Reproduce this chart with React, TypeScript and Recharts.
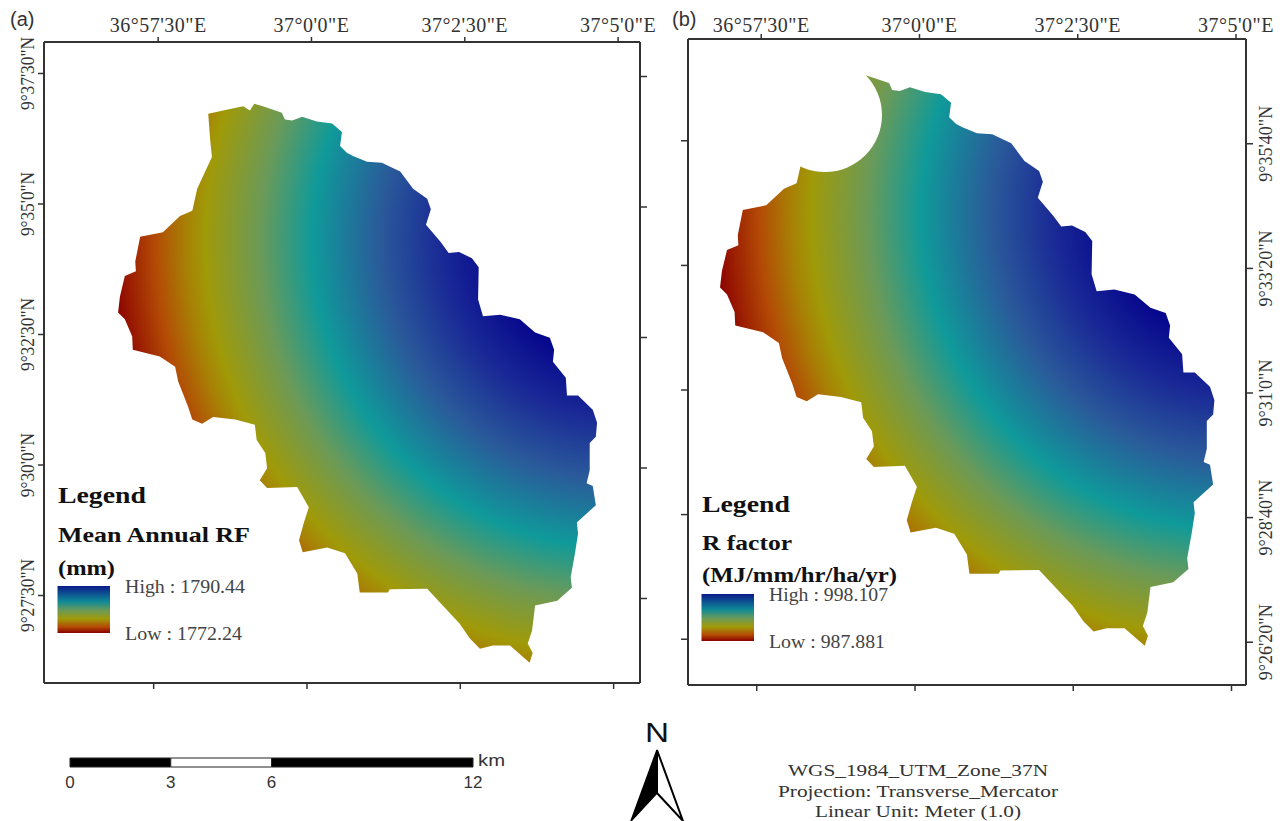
import { BarChart, Bar, ReferenceDot, Scatter, ScatterChart, XAxis, YAxis } from 'recharts';

// lon = arc-minutes east of 37°0', lat = arc-minutes north of 9°0'
const outlineLon = [
  -1.61, -1.29, -1.04, -0.93, -0.86, -0.72, -0.41, -0.36, -0.24, -0.08, 0.16, 0.41, 0.57, 0.54, 0.65, 0.75, 0.98, 1.22,
  1.52, 1.73, 1.96, 2.02, 1.94, 2.18, 2.31, 2.48, 2.69, 2.8, 2.79, 2.87, 3.15, 3.47, 3.72, 3.96, 4.03, 4.01, 4.22, 4.24,
  4.42, 4.66, 4.73, 4.71, 4.61, 4.61, 4.56, 4.66, 4.71, 4.4, 4.42, 4.37, 4.3, 4.32, 4.08, 3.72, 3.67, 3.6, 3.68, 3.63,
  3.31, 3.03, 2.82, 2.66, 2.49, 1.96, 1.35, 1.32, 0.86, 0.82, 0.62, 0.33, -0.07, -0.13, -0.05, 0.03, -0.16, -0.65, -0.77,
  -0.65, -0.68, -0.82, -0.85, -1.17, -1.53, -1.71, -1.87, -1.94, -2.1, -2.15, -2.4, -2.84, -2.85, -2.97, -3.08, -3.05,
  -2.97, -2.79, -2.8, -2.72, -2.35, -2.07, -1.87, -1.79, -1.55, -1.58,
];
const outlineLat = [
  36.73, 36.81, 36.87, 36.79, 36.92, 36.87, 36.75, 36.62, 36.6, 36.67, 36.58, 36.54, 36.38, 36.11, 35.98, 35.92, 35.81,
  35.79, 35.62, 35.29, 35.1, 34.9, 34.6, 34.27, 34.06, 34.08, 33.96, 33.79, 33.17, 32.85, 32.88, 32.79, 32.54, 32.44,
  32.21, 31.98, 31.67, 31.33, 31.33, 31.06, 30.81, 30.54, 30.42, 29.9, 29.65, 29.6, 29.23, 28.9, 28.69, 28.31, 27.85,
  27.65, 27.4, 27.31, 26.83, 26.58, 26.4, 26.21, 26.54, 26.54, 26.48, 26.67, 26.96, 27.63, 27.62, 27.56, 27.56, 27.92,
  28.31, 28.42, 28.33, 28.56, 28.9, 29.19, 29.58, 29.56, 29.71, 29.94, 30.23, 30.48, 30.77, 30.87, 30.92, 30.79, 30.87,
  31.12, 31.6, 31.88, 32.08, 32.21, 32.46, 32.79, 32.92, 33.23, 33.62, 33.71, 33.9, 34.37, 34.46, 34.77, 34.87, 35.29,
  35.9, 36.25,
];
const outline = outlineLon.map((lon, i) => ({ lon, lat: outlineLat[i] }));

const lonTicks = [-2.5, 0, 2.5, 5];
const lonLabels = ['36°57\'30"E', '37°0\'0"E', '37°2\'30"E', '37°5\'0"E'];

const latTicksA = [37.5, 35, 32.5, 30, 27.5];
const latLabelsA = ['9°37\'30"N', '9°35\'0"N', '9°32\'30"N', '9°30\'0"N', '9°27\'30"N'];

const latTicksB = [35.667, 33.333, 31, 28.667, 26.333];
const latLabelsB = ['9°35\'40"N', '9°33\'20"N', '9°31\'0"N', '9°28\'40"N', '9°26\'20"N'];

// the white notch in map (b)
const notchLon = -1.422;
const notchLat = 36.15;

const scaleSegments = [3, 3, 6];
const scaleTicks = [0, 3, 6, 12];
const scaleRow = [{ name: 'km', first: scaleSegments[0], second: scaleSegments[1], third: scaleSegments[2] }];

const INK = '#333';
const SERIF = '"Liberation Serif", serif';
const SANS = '"Liberation Sans", sans-serif';

// radius (px at map a) -> colour, contours are arcs round the north-east
const rampRadius = 510;
const rampStops: [number, string][] = [
  [0, '#05058c'],
  [120, '#05058c'],
  [180, '#1a2a96'],
  [240, '#2a5a9a'],
  [308, '#0f9a9a'],
  [360, '#6b9a58'],
  [415, '#a09a08'],
  [435, '#a87f05'],
  [465, '#b34a05'],
  [510, '#8b0000'],
];

function RadialRamp({ id, cx, cy, r }: { id: string; cx: number; cy: number; r: number }) {
  return (
    <defs>
      <radialGradient id={id} gradientUnits="userSpaceOnUse" cx={cx} cy={cy} r={r}>
        {rampStops.map(([d, c]) => (
          <stop key={d} offset={d / rampRadius} stopColor={c} />
        ))}
      </radialGradient>
    </defs>
  );
}

const noMarker = () => <g />;

function shedPath(fill: string) {
  return (props: any) => {
    const d =
      props.points
        .map((p: any, i: number) => `${i === 0 ? 'M' : 'L'}${p.x ?? p.cx},${p.y ?? p.cy}`)
        .join(' ') + ' Z';
    return <path d={d} fill={fill} stroke="none" />;
  };
}

function lonTick(props: any) {
  const idx = lonTicks.indexOf(props.payload.value);
  return (
    <text x={props.x} y={32} textAnchor="middle" style={{ fontFamily: SERIF, fontSize: 20, letterSpacing: 0.5, fill: INK }}>
      {lonLabels[idx]}
    </text>
  );
}

function latTick(baseX: number, ticks: number[], labels: string[], length: number) {
  return (props: any) => {
    const idx = ticks.indexOf(props.payload.value);
    return (
      <text
        x={baseX}
        y={props.y}
        transform={`rotate(-90 ${baseX} ${props.y})`}
        textAnchor="middle"
        textLength={labels[idx].length === 9 ? length : length * 0.88}
        lengthAdjust="spacingAndGlyphs"
        style={{ fontFamily: SERIF, fontSize: 18, fill: INK }}
      >
        {labels[idx]}
      </text>
    );
  };
}

const noLabel = () => <g />;
const axisLine = { stroke: INK, strokeWidth: 2 };
const tickLine = { stroke: INK, strokeWidth: 1.5 };

function MapA() {
  return (
    <ScatterChart width={660} height={700} margin={{ top: 0, right: 0, bottom: 0, left: 0 }} style={{ position: 'absolute', left: 0, top: 0 }}>
      <RadialRamp id="rampA" cx={620} cy={240} r={rampRadius} />
      <XAxis xAxisId="bottom" dataKey="lon" type="number" orientation="bottom" height={17} domain={[-4.288, 5.43]} ticks={lonTicks} interval={0} axisLine={axisLine} tickLine={tickLine} tickSize={6} tick={noLabel} allowDataOverflow />
      <XAxis xAxisId="top" dataKey="lon" type="number" orientation="top" height={42} domain={[-4.361, 5.357]} ticks={lonTicks} interval={0} axisLine={axisLine} tickLine={tickLine} tickSize={5} tick={lonTick} allowDataOverflow />
      <YAxis yAxisId="left" dataKey="lat" type="number" orientation="left" width={44} domain={[25.824, 38.103]} ticks={latTicksA} interval={0} axisLine={axisLine} tickLine={tickLine} tickSize={6} tick={latTick(34, latTicksA, latLabelsA, 73)} allowDataOverflow />
      <YAxis yAxisId="right" dataKey="lat" type="number" orientation="right" width={20} domain={[25.881, 38.161]} ticks={latTicksA} interval={0} axisLine={axisLine} tickLine={tickLine} tickSize={7} tick={noLabel} allowDataOverflow />
      <Scatter xAxisId="top" yAxisId="right" data={outline} shape={noMarker} isAnimationActive={false} />
      <Scatter xAxisId="bottom" yAxisId="left" data={outline} line={shedPath('url(#rampA)')} shape={noMarker} isAnimationActive={false} />
    </ScatterChart>
  );
}

function MapB() {
  return (
    <ScatterChart width={623} height={701} margin={{ top: 0, right: 0, bottom: 0, left: 0 }} style={{ position: 'absolute', left: 662, top: 0 }}>
      <RadialRamp id="rampB" cx={576} cy={213} r={525} />
      <XAxis xAxisId="bottom" dataKey="lon" type="number" orientation="bottom" height={16} domain={[-3.586, 5.229]} ticks={lonTicks} interval={0} axisLine={axisLine} tickLine={tickLine} tickSize={6} tick={noLabel} allowDataOverflow />
      <XAxis xAxisId="top" dataKey="lon" type="number" orientation="top" height={39} domain={[-3.657, 5.158]} ticks={lonTicks} interval={0} axisLine={axisLine} tickLine={tickLine} tickSize={5} tick={lonTick} allowDataOverflow />
      <YAxis yAxisId="left" dataKey="lat" type="number" orientation="left" width={26} domain={[25.476, 37.573]} ticks={latTicksB} interval={0} axisLine={axisLine} tickLine={tickLine} tickSize={7} tick={noLabel} allowDataOverflow />
      <YAxis yAxisId="right" dataKey="lat" type="number" orientation="right" width={39} domain={[25.532, 37.629]} ticks={latTicksB} interval={0} axisLine={axisLine} tickLine={tickLine} tickSize={7} tick={latTick(610, latTicksB, latLabelsB, 76)} allowDataOverflow />
      <Scatter xAxisId="top" yAxisId="right" data={outline} shape={noMarker} isAnimationActive={false} />
      <Scatter xAxisId="bottom" yAxisId="left" data={outline} line={shedPath('url(#rampB)')} shape={noMarker} isAnimationActive={false} />
      <ReferenceDot xAxisId="bottom" yAxisId="left" x={notchLon} y={notchLat} r={57} fill="#fff" stroke="none" ifOverflow="visible" />
    </ScatterChart>
  );
}

function ScaleBar() {
  return (
    <BarChart width={455} height={57} layout="vertical" data={scaleRow} margin={{ top: 8, right: 32, bottom: 0, left: 20 }} style={{ position: 'absolute', left: 50, top: 745 }}>
      <XAxis type="number" domain={[0, 12]} ticks={scaleTicks} interval={0} height={30} axisLine={false} tickLine={false} tickMargin={0} tick={{ fontFamily: SANS, fontSize: 17, fill: INK, dy: -2 }} />
      <YAxis type="category" dataKey="name" hide />
      <Bar dataKey="first" stackId="s" fill="#000" stroke="#222" barSize={9} isAnimationActive={false} />
      <Bar dataKey="second" stackId="s" fill="#fff" stroke="#222" barSize={9} isAnimationActive={false} />
      <Bar dataKey="third" stackId="s" fill="#000" stroke="#222" barSize={9} isAnimationActive={false} />
    </BarChart>
  );
}

function LegendBlock(p: {
  x: number;
  title: number;
  name: string;
  nameY: number;
  nameLen: number;
  unit: string;
  unitY: number;
  unitLen: number;
  rampY: number;
  high: string;
  low: string;
  textX: number;
  highY: number;
  lowY: number;
  highLen: number;
  lowLen: number;
}) {
  const bold = { fontFamily: SERIF, fontWeight: 700, fill: '#111', lengthAdjust: 'spacingAndGlyphs' as const };
  const plain = { fontFamily: SERIF, fontSize: 19, fill: '#444', lengthAdjust: 'spacingAndGlyphs' as const };
  return (
    <g>
      <text x={p.x} y={p.title} fontSize={24} textLength={88} {...bold}>Legend</text>
      <text x={p.x} y={p.nameY} fontSize={22} textLength={p.nameLen} {...bold}>{p.name}</text>
      <text x={p.x} y={p.unitY} fontSize={22} textLength={p.unitLen} {...bold}>{p.unit}</text>
      <rect x={p.x - 0.5} y={p.rampY} width={52.5} height={47} fill="url(#rampLegend)" />
      <text x={p.textX} y={p.highY} textLength={p.highLen} {...plain}>{p.high}</text>
      <text x={p.textX} y={p.lowY} textLength={p.lowLen} {...plain}>{p.low}</text>
    </g>
  );
}

function Overlay() {
  const note = { fontFamily: SERIF, fontSize: 17, fill: INK, lengthAdjust: 'spacingAndGlyphs' as const };
  return (
    <svg width={1285} height={821} style={{ position: 'absolute', left: 0, top: 0, pointerEvents: 'none' }}>
      <defs>
        <linearGradient id="rampLegend" x1="0" y1="0" x2="0" y2="1">
          <stop offset="0" stopColor="#0a1a8c" />
          <stop offset="0.33" stopColor="#0f8a96" />
          <stop offset="0.52" stopColor="#6b9a58" />
          <stop offset="0.7" stopColor="#a09a08" />
          <stop offset="0.87" stopColor="#b34a05" />
          <stop offset="1" stopColor="#8b0000" />
        </linearGradient>
      </defs>
      <text x={10} y={26} fontFamily={SANS} fontSize={20} fill={INK}>(a)</text>
      <text x={672} y={26} fontFamily={SANS} fontSize={20} fill={INK}>(b)</text>

      <LegendBlock x={58} title={503} name="Mean Annual RF" nameY={542} nameLen={192} unit="(mm)" unitY={575} unitLen={57} rampY={586} high="High : 1790.44" low="Low : 1772.24" textX={125} highY={593} lowY={640} highLen={120} lowLen={117} />
      <LegendBlock x={702} title={512} name="R factor" nameY={550} nameLen={90} unit="(MJ/mm/hr/ha/yr)" unitY={582} unitLen={195} rampY={594} high="High : 998.107" low="Low : 987.881" textX={769} highY={601} lowY={648} highLen={119} lowLen={116} />

      <text x={478} y={766} fontFamily={SANS} fontSize={16} fill={INK} textLength={27} lengthAdjust="spacingAndGlyphs">km</text>

      <text x={645} y={742} fontFamily={SANS} fontSize={28} fill="#111" textLength={24} lengthAdjust="spacingAndGlyphs">N</text>
      <path d="M657 750 L631 821 L657 793 Z" fill="#000" stroke="#000" strokeWidth={1.5} />
      <path d="M657 750 L683 821 L657 793 Z" fill="#fff" stroke="#000" strokeWidth={2} />

      <text x={788} y={776} textLength={260} {...note}>WGS_1984_UTM_Zone_37N</text>
      <text x={778} y={797} textLength={280} {...note}>Projection: Transverse_Mercator</text>
      <text x={815} y={817} textLength={206} {...note}>Linear Unit: Meter (1.0)</text>
    </svg>
  );
}

export default function App() {
  return (
    <div style={{ position: 'absolute', left: 0, top: 0, width: 1285, height: 821, background: '#fff', overflow: 'hidden' }}>
      <MapA />
      <MapB />
      <ScaleBar />
      <Overlay />
    </div>
  );
}
